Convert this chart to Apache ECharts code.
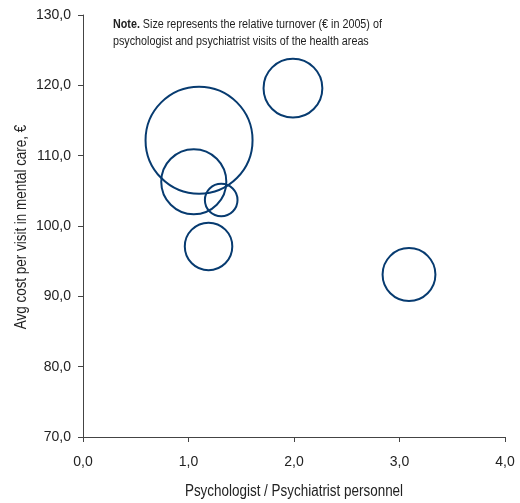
<!DOCTYPE html>
<html>
<head>
<meta charset="utf-8">
<script src="https://cdn.jsdelivr.net/npm/echarts@6/dist/echarts.min.js"></script>
<style>html,body{margin:0;padding:0;background:#fff}#c{width:520px;height:503px}</style>
</head>
<body>
<div id="c"></div>
<script>
// Psychologist / Psychiatrist personnel ratio
var xValues = [1.10, 1.05, 1.31, 1.19, 1.99, 3.09];
// Avg cost per visit in mental care, €
var yValues = [112.2, 106.3, 103.7, 97.1, 119.6, 93.1];
// Relative turnover (largest = 100)
var turnover = [100, 37, 9.3, 19.7, 30.2, 24.4];
var xTicks = [0, 1, 2, 3, 4];
var yTicks = [70, 80, 90, 100, 110, 120, 130];
var xTitle = 'Psychologist / Psychiatrist personnel';
var yTitle = 'Avg cost per visit in mental care, €';

var FONT = '"Liberation Sans",Arial,sans-serif';
var data = xValues.map(function (x, i) { return [x, yValues[i], turnover[i]]; });
function fmt(v) { return v.toFixed(1).replace('.', ','); }

var chart = echarts.init(document.getElementById('c'), null, {renderer: 'canvas'});
chart.setOption({
  animation: false,
  grid: {left: 83, right: 15, top: 15, bottom: 66},
  xAxis: {
    type: 'value', min: 0, max: 4, interval: 1,
    axisLine: {show: true, lineStyle: {color: '#444', width: 1}},
    axisTick: {show: true, length: 5, lineStyle: {color: '#444'}},
    axisLabel: {fontFamily: FONT, fontSize: 14, color: '#222', margin: 18, formatter: fmt},
    splitLine: {show: false}
  },
  yAxis: {
    type: 'value', min: 70, max: 130, interval: 10,
    axisLine: {show: true, lineStyle: {color: '#444', width: 1}},
    axisTick: {show: true, length: 5, lineStyle: {color: '#444'}},
    axisLabel: {fontFamily: FONT, fontSize: 14, color: '#222', margin: 12, formatter: fmt},
    splitLine: {show: false}
  },
  graphic: [{
    type: 'text', x: 113, y: 16, scaleX: 0.86,
    style: {
      rich: {
        b: {fontFamily: FONT, fontSize: 12.5, fontWeight: 'bold', fill: '#222', lineHeight: 17},
        n: {fontFamily: FONT, fontSize: 12.5, fill: '#222', lineHeight: 17}
      },
      text: '{b|Note.}{n| Size represents the relative turnover (€ in 2005) of}\n{n|psychologist and psychiatrist visits of the health areas}'
    }
  }, {
    type: 'text', x: 294, y: 492, scaleX: 0.84,
    style: {text: xTitle, fontFamily: FONT, fontSize: 16, fill: '#222', align: 'center', verticalAlign: 'middle'}
  }, {
    type: 'text', x: 22, y: 227, rotation: Math.PI / 2, scaleX: 0.84,
    style: {text: yTitle, fontFamily: FONT, fontSize: 16, fill: '#222', align: 'center', verticalAlign: 'middle'}
  }],
  series: [{
    type: 'scatter',
    data: data,
    symbol: 'circle',
    symbolSize: function (d) { return 107 * Math.sqrt(d[2] / 100); },
    itemStyle: {color: 'rgba(0,0,0,0)', borderColor: '#073b70', borderWidth: 2, opacity: 1},
    emphasis: {disabled: true}
  }]
});
</script>
</body>
</html>
